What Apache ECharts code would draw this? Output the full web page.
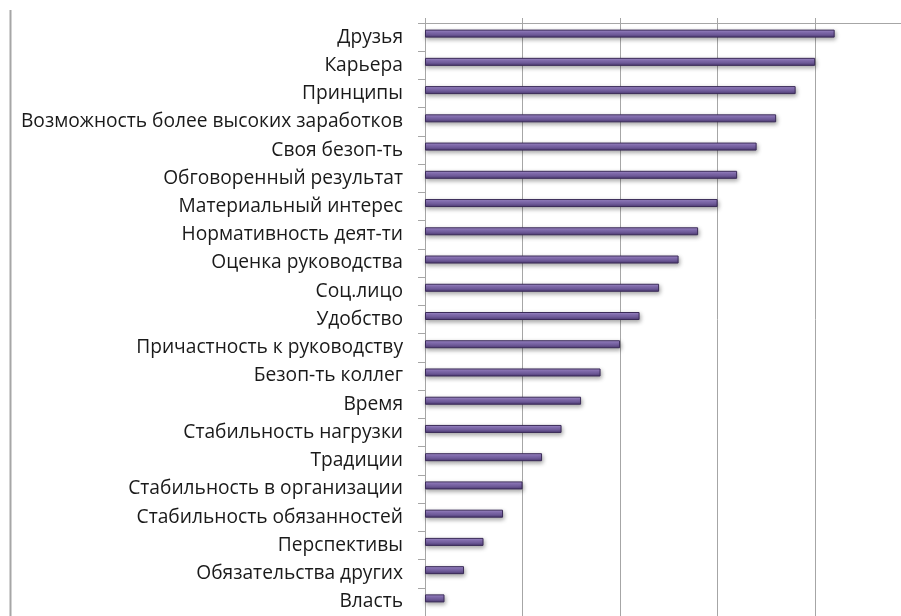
<!DOCTYPE html>
<html>
<head>
<meta charset="utf-8">
<script src="https://cdn.jsdelivr.net/npm/echarts@6/dist/echarts.min.js"></script>
<style>
  html, body { margin: 0; padding: 0; background: #ffffff; overflow: hidden; }
  #chart { width: 901px; height: 616px; }
</style>
</head>
<body>
<div id="chart"></div>
<script>
// Motive categories, listed top to bottom
const categories = [
  'Друзья',
  'Карьера',
  'Принципы',
  'Возможность более высоких заработков',
  'Своя безоп-ть',
  'Обговоренный результат',
  'Материальный интерес',
  'Нормативность деят-ти',
  'Оценка руководства',
  'Соц.лицо',
  'Удобство',
  'Причастность к руководству',
  'Безоп-ть коллег',
  'Время',
  'Стабильность нагрузки',
  'Традиции',
  'Стабильность в организации',
  'Стабильность обязанностей',
  'Перспективы',
  'Обязательства других',
  'Власть'
];

// Score for each category (same order)
const scores = [21, 20, 19, 18, 17, 16, 15, 14, 13, 12, 11, 10, 9, 8, 7, 6, 5, 4, 3, 2, 1];

// Value axis range: the visible part of the scale stops just short of 25
const axisMin = 0;
const axisMax = 24.4;
const axisStep = 5;

const chart = echarts.init(document.getElementById('chart'), null, { renderer: 'canvas' });

chart.setOption({
  animation: false,
  backgroundColor: '#ffffff',
  grid: { left: 425, right: 0, top: 23, bottom: -1, containLabel: false },
  xAxis: {
    type: 'value',
    position: 'top',
    min: axisMin,
    max: axisMax,
    interval: axisStep,
    axisLine: { show: true, lineStyle: { color: '#a6a6a6', width: 1 } },
    axisTick: { show: true, length: 5, lineStyle: { color: '#a6a6a6' } },
    axisLabel: { show: false },
    splitLine: { show: true, showMaxLine: false, lineStyle: { color: '#a6a6a6', width: 1 } }
  },
  yAxis: {
    type: 'category',
    data: categories,
    inverse: true,
    axisLine: { show: true, lineStyle: { color: '#a6a6a6', width: 1 } },
    axisTick: { show: true, length: 7, alignWithLabel: false, lineStyle: { color: '#a6a6a6' } },
    axisLabel: {
      color: '#1a1a1a',
      fontFamily: 'Open Sans',
      fontSize: 19.2,
      margin: 22
    },
    splitLine: { show: false }
  },
  series: [{
    type: 'bar',
    data: scores,
    barWidth: 8,
    barGap: '-12.5%',
    itemStyle: {
      // cylinder-like shading: light top edge, purple body, dark underside
      color: new echarts.graphic.LinearGradient(0, 0, 0, 1, [
        { offset: 0, color: '#ab97d2' },
        { offset: 0.3, color: '#8a73b8' },
        { offset: 0.6, color: '#7560a1' },
        { offset: 1, color: '#4a3870' }
      ]),
      borderColor: '#3a2a58',
      borderWidth: 1,
      shadowColor: 'rgba(0,0,0,0.35)',
      shadowBlur: 4,
      shadowOffsetX: 1,
      shadowOffsetY: 2
    }
  }, {
    // empty companion series: keeps the visible bars slightly above band centre
    type: 'bar',
    data: [],
    barWidth: 8,
    silent: true
  }],
  graphic: [{
    type: 'line',
    shape: { x1: 10.5, y1: 10, x2: 10.5, y2: 616 },
    style: { stroke: '#a6a6a6', lineWidth: 2 },
    silent: true
  }]
});
</script>
</body>
</html>
